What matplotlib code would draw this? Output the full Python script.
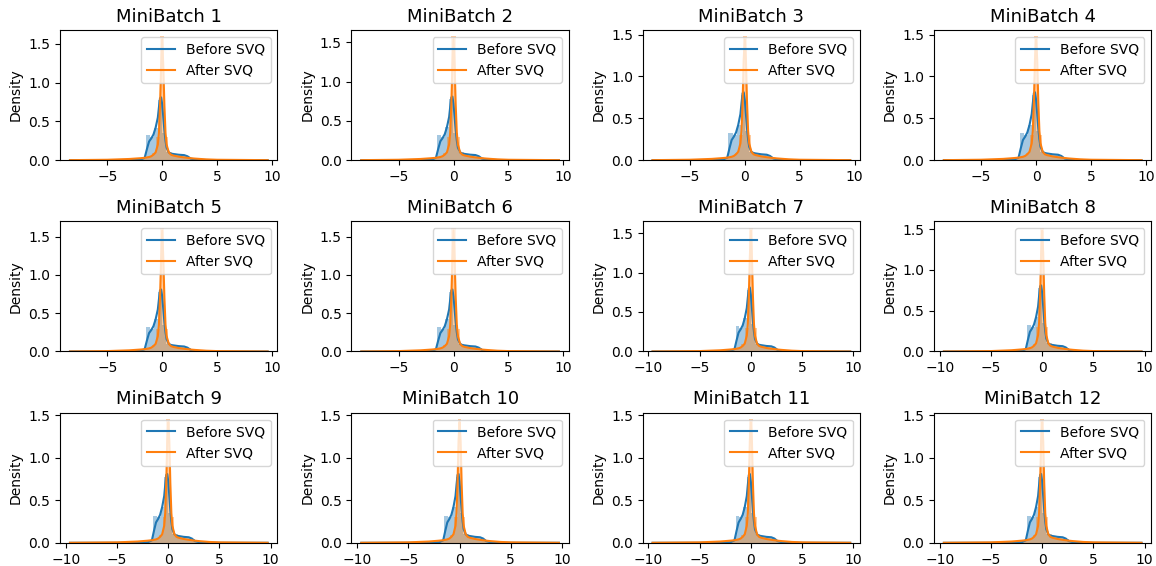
import matplotlib
matplotlib.use("Agg")
import matplotlib.pyplot as plt

BLUE = "#1f77b4"
ORANGE = "#ff7f0e"

titles = ["MiniBatch %d" % i for i in range(1, 13)]

# data range of each minibatch (where the kde lines start / end)
x_lo = [-8.4, -8.4, -8.4, -8.4, -8.4, -8.4, -9.6, -9.6, -9.6, -9.6, -9.6, -9.6]
x_hi = [9.6, 9.6, 9.6, 9.6, 9.6, 9.6, 9.7, 9.7, 9.7, 9.7, 9.7, 9.7]

# height of the orange spike (hist bin at 0) and of the orange kde peak
after_spike = [1.60, 1.58, 1.48, 1.48, 1.62, 1.62, 1.57, 1.52, 1.46, 1.46, 1.46, 1.46]
after_peak = [1.56, 1.54, 1.44, 1.44, 1.58, 1.58, 1.53, 1.48, 1.42, 1.42, 1.42, 1.42]

# kde lines (inner points, the ends are added per panel)
kde_x = [-5.0, -3.0, -2.0, -1.6, -1.4, -1.2, -1.0, -0.8, -0.6, -0.4, -0.3, -0.2,
         -0.1, 0.0, 0.1, 0.2, 0.3, 0.4, 0.6, 0.8, 1.0, 1.5, 2.0, 2.3, 2.6, 3.0, 4.0, 5.0]
before_kde = [0.0, 0.002, 0.006, 0.03, 0.14, 0.24, 0.28, 0.33, 0.42, 0.55, 0.68, 0.80,
              0.81, 0.72, 0.55, 0.38, 0.25, 0.16, 0.10, 0.085, 0.08, 0.07, 0.065, 0.05,
              0.02, 0.008, 0.002, 0.0]
after_kde_left = [0.005, 0.015, 0.025, 0.03, 0.035, 0.04, 0.05, 0.07, 0.10, 0.20, 0.35, 0.70, 1.2]
after_kde_right = [1.2, 0.70, 0.35, 0.20, 0.10, 0.07, 0.06, 0.045, 0.035, 0.03, 0.025,
                   0.02, 0.01, 0.005]

# histograms (density, bar centers)
bin_w = 0.37
before_bins = [-2.04, -1.67, -1.30, -0.93, -0.56, -0.19, 0.18, 0.55, 0.92, 1.29, 1.66,
               2.03, 2.40, 2.77, 3.14]
before_hist = [0.005, 0.02, 0.32, 0.30, 0.42, 0.78, 0.35, 0.10, 0.08, 0.07, 0.07,
               0.06, 0.04, 0.015, 0.006]
after_bins = [-4.81, -3.7, -2.96, -2.59, -2.22, -1.85, -1.48, -1.11, -0.74, -0.37,
              0.37, 0.74, 1.11, 1.48, 1.85, 2.22, 2.59, 2.96, 3.7, 4.81]
after_hist = [0.005, 0.01, 0.015, 0.02, 0.02, 0.025, 0.03, 0.05, 0.09, 0.30,
              0.30, 0.10, 0.06, 0.05, 0.04, 0.03, 0.02, 0.015, 0.01, 0.005]

fig, axes = plt.subplots(3, 4, figsize=(11.56, 5.66), dpi=100)
fig.subplots_adjust(left=0.052, right=0.996, top=0.947, bottom=0.041,
                    wspace=0.34, hspace=0.47)

for i, ax in enumerate(axes.flat):
    # before SVQ
    ax.bar(before_bins, before_hist, width=bin_w, color=BLUE, alpha=0.4, linewidth=0)
    bx = [x_lo[i]] + kde_x + [x_hi[i]]
    by = [0.0] + before_kde + [0.0]
    ax.plot(bx, by, color=BLUE, lw=1.5, label="Before SVQ")

    # after SVQ
    ax.bar(after_bins + [0.0], after_hist + [after_spike[i]], width=bin_w,
           color=ORANGE, alpha=0.4, linewidth=0)
    ay = [0.0] + after_kde_left + [after_peak[i]] + after_kde_right + [0.0]
    ax.plot(bx, ay, color=ORANGE, lw=1.5, label="After SVQ")

    ax.set_title(titles[i], fontsize=13)
    ax.set_ylabel("Density")
    ax.legend(loc="upper right")

plt.savefig("out.png")
